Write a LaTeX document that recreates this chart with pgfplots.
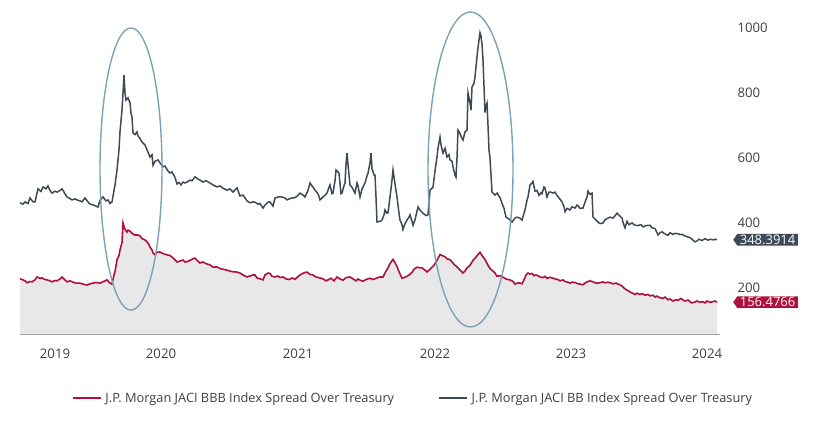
\documentclass[border=0pt]{standalone}
\usepackage{pgfplots}
\usepackage{pgfplotstable}
\pgfplotsset{compat=1.18}
\usepackage{fontspec}
\setmainfont{Open Sans}
\usetikzlibrary{shapes.symbols}
\definecolor{bbcol}{HTML}{3E4A55}
\definecolor{bbbcol}{HTML}{B0103E}
\definecolor{ellcol}{HTML}{7CA2B6}
\definecolor{fillcol}{HTML}{E8E8E8}
\definecolor{axcol}{HTML}{9A9A9A}
\definecolor{txtcol}{HTML}{404040}

\pgfplotstableread{
x y
20 462
23 458
25 465
28 460
30 477
33 465
35 465
38 505
41 497
43 511
46 505
48 514
50 500
52 492
55 498
57 495
60 500
62 505
65 490
67 480
70 475
72 471
75 474
77 471
80 468
82 465
85 477
88 465
90 458
94 455
98 449
100 470
103 480
106 468
108 471
110 460
112 465
114 500
115 517
117 563
119 625
120 680
122 748
123 800
124 855
125 800
126 778
128 785
130 770
131 738
132 725
133 677
135 672
137 680
138 668
140 660
142 649
143 646
145 640
147 625
148 618
150 603
152 610
153 578
155 590
158 594
160 585
163 573
165 575
168 560
170 554
172 557
175 540
177 520
179 525
181 517
183 526
185 523
188 528
190 532
192 530
195 542
198 535
200 532
203 526
206 530
210 523
213 517
217 511
220 514
223 507
227 501
230 505
233 495
235 502
237 508
240 483
243 486
245 477
247 468
250 462
253 465
255 464
258 458
260 460
263 446
265 455
268 464
270 465
273 452
275 477
278 480
282 480
285 477
287 471
290 475
292 477
295 478
298 485
300 492
303 486
305 480
308 500
310 523
313 510
315 501
318 490
320 471
323 480
325 485
327 492
329 510
330 517
332 490
333 492
335 530
336 563
338 557
339 553
341 490
342 492
344 515
345 523
346 580
347 615
348 580
350 517
352 510
355 492
357 523
358 515
360 480
362 505
365 523
367 545
368 553
370 585
371 615
372 567
374 548
375 547
376 480
377 403
380 405
382 409
384 425
385 440
387 430
388 431
390 480
392 532
393 563
395 520
397 480
399 430
400 409
402 395
403 380
405 398
407 409
409 418
410 425
412 405
413 393
415 410
418 449
420 440
423 430
426 423
428 425
430 501
432 507
433 510
435 560
437 603
438 630
440 664
441 640
443 615
445 630
447 603
449 610
450 594
452 590
453 573
455 547
456 541
457 600
458 686
460 675
462 660
463 655
465 680
467 686
468 800
470 770
471 747
472 818
474 830
475 850
477 911
478 940
480 985
481 975
482 950
483 901
484 820
485 740
486 760
487 769
488 700
489 625
490 600
492 495
495 486
497 492
500 478
502 461
504 445
506 418
509 412
512 403
515 415
517 418
520 415
522 409
525 440
527 470
528 480
530 517
532 523
533 528
535 498
537 500
539 485
541 493
542 490
544 511
545 508
547 480
549 495
551 495
553 492
555 495
557 485
560 473
562 465
564 450
565 435
567 445
570 440
572 450
575 446
577 455
578 453
580 445
583 446
585 464
587 480
588 498
590 488
592 492
593 418
595 412
598 403
600 398
603 400
605 410
608 415
610 418
613 415
615 422
617 430
619 424
622 415
623 402
625 385
627 405
629 395
632 400
635 393
638 392
641 395
643 388
646 392
650 393
652 385
655 383
657 370
658 363
660 370
662 373
664 368
666 365
668 362
670 370
673 365
675 368
678 367
680 364
682 365
685 360
688 357
690 355
692 350
695 342
697 345
699 350
702 346
705 352
708 347
710 350
713 348
715 350
717 348.39
}\bbdata

\pgfplotstableread{
x y
20 228
23 225
25 222
27 216
30 220
32 219
35 225
37 234
40 230
42 231
45 226
47 225
50 222
52 219
55 223
57 222
60 228
62 234
65 225
67 219
70 222
73 218
76 215
80 215
83 212
87 209
90 213
93 215
96 217
100 215
103 219
107 225
110 215
112 212
114 240
115 250
117 287
119 300
120 317
122 340
123 400
124 390
125 380
127 372
128 378
130 375
132 368
135 363
138 363
140 360
142 352
145 348
147 342
149 333
150 326
152 317
153 308
155 302
157 310
160 311
162 307
164 305
167 302
170 300
172 295
175 287
177 280
180 283
183 286
185 280
187 281
190 285
193 290
195 292
197 285
200 277
203 280
206 275
210 271
213 264
217 265
220 260
224 257
227 255
230 252
233 250
237 249
240 246
243 240
247 234
250 237
253 240
255 240
257 231
260 228
263 225
265 240
268 246
270 245
272 236
275 234
278 237
280 232
283 234
286 228
289 226
292 231
295 227
298 235
300 240
303 245
305 248
307 249
310 242
313 240
316 234
320 231
323 228
326 222
328 225
331 230
334 222
337 234
340 228
343 224
346 232
350 234
353 228
356 222
358 228
360 224
363 221
366 226
370 230
373 226
377 231
380 234
383 234
386 252
388 262
390 275
393 288
395 278
397 266
399 250
402 230
404 232
407 236
409 240
412 248
414 258
417 264
420 262
422 262
425 255
427 249
430 258
432 264
434 270
437 285
440 303
442 300
445 296
447 290
450 287
452 280
455 270
457 265
460 255
463 246
465 252
467 262
470 270
473 285
476 295
478 303
480 310
482 300
484 292
486 282
488 270
490 260
493 252
495 246
497 236
500 238
503 233
506 228
508 226
510 225
513 220
515 212
518 216
520 215
522 213
524 225
526 240
528 246
530 243
532 245
534 238
536 240
538 238
540 234
543 232
545 236
547 230
550 233
553 230
556 227
558 226
560 222
563 225
565 220
568 218
570 215
572 218
575 217
577 214
580 212
583 210
585 215
587 219
590 222
593 219
596 215
600 216
603 219
605 216
608 218
610 216
613 213
616 215
618 212
620 210
622 206
624 200
626 195
628 192
630 188
632 185
635 180
637 184
640 180
642 183
645 178
648 180
650 176
653 178
655 172
657 175
660 170
663 168
665 172
668 164
670 166
673 160
676 164
678 162
681 168
683 163
685 160
688 163
690 158
692 154
695 157
697 160
700 156
703 158
705 154
707 160
710 156
713 158
715 160
717 156.48
}\bbbdata

\begin{document}
\begin{tikzpicture}[x=1pt,y=1pt]
\begin{axis}[
  at={(20pt,87pt)}, anchor=south west,
  scale only axis, width=700pt, height=334pt,
  xmin=20, xmax=720, ymin=58.5, ymax=1086,
  clip mode=individual,
  axis line style={draw=none},
  axis x line*=bottom,
  axis y line*=right,
  x axis line style={draw=axcol, line width=1pt},
  y axis line style={draw=none},
  major tick length=0pt,
  xtick={55,161,298,435,571,707},
  xticklabels={2019,2020,2021,2022,2023,2024},
  ytick={200,400,600,800,1000},
  yticklabel pos=right,
  ticklabel style={font=\fontsize{13.2}{14}\selectfont, text=txtcol},
  /pgf/number format/assume math mode=true,
  /pgf/number format/1000 sep={},
  xticklabel style={yshift=-11.5pt},
  yticklabel style={anchor=west, xshift=14pt},
  legend style={at={(0.5614,-0.1916)}, anchor=center, draw=none, fill=none,
    font=\fontsize{12.8}{14}\selectfont, text=txtcol,
    legend columns=2,
    /tikz/every odd column/.append style={column sep=2pt},
    /tikz/every even column/.append style={column sep=42pt}},
  legend image code/.code={\draw[#1] (0pt,0pt) -- (28pt,0pt);},
]
\addplot[fill=fillcol, draw=none, forget plot] table[x=x,y=y]{\bbbdata} \closedcycle;
\addplot[color=bbbcol, line width=1.6pt] table[x=x,y=y]{\bbbdata};
\addlegendentry{J.P. Morgan JACI BBB Index Spread Over Treasury}
\addplot[color=bbcol, line width=1.5pt] table[x=x,y=y]{\bbdata};
\addlegendentry{J.P. Morgan JACI BB Index Spread Over Treasury}
\draw[ellcol, line width=1.4pt] (axis cs:131,566) ellipse [x radius=31, y radius=434];
\draw[ellcol, line width=1.4pt] (axis cs:470.5,564.6) ellipse [x radius=42.5, y radius=484.6];
\node[signal, signal to=west, signal pointer angle=110, fill=bbcol, text=white,
  inner xsep=2.5pt, inner ysep=1pt, font=\fontsize{13}{13}\selectfont, anchor=west]
  at (axis cs:720,348.39) [xshift=13pt] {348.3914};
\node[signal, signal to=west, signal pointer angle=110, fill=bbbcol, text=white,
  inner xsep=2.5pt, inner ysep=1pt, font=\fontsize{13}{13}\selectfont, anchor=west]
  at (axis cs:720,156.48) [xshift=13pt] {156.4766};
\end{axis}
\pgfresetboundingbox
\path[use as bounding box] (0,0) rectangle (821,421);
\end{tikzpicture}
\end{document}
